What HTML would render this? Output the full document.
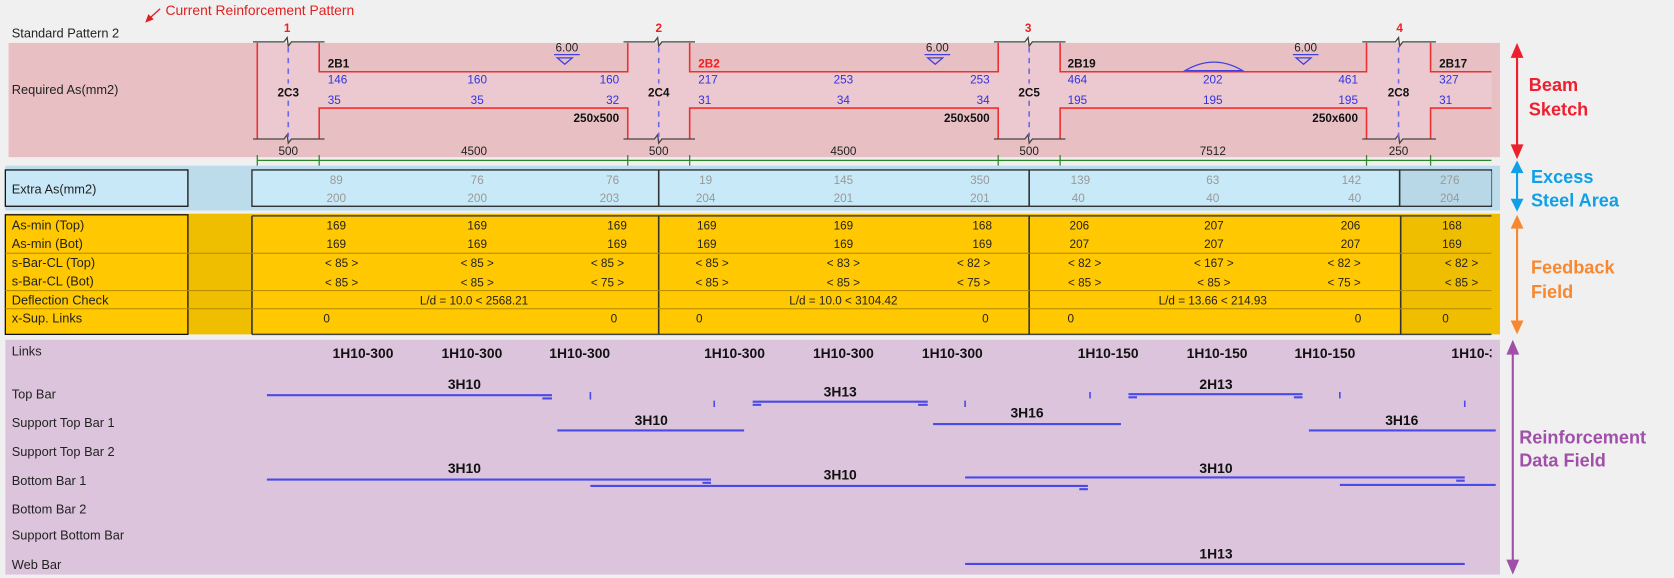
<!DOCTYPE html>
<html><head><meta charset="utf-8"><style>
html,body{margin:0;padding:0;background:#f0f0f0;width:1674px;height:578px;overflow:hidden}
svg{display:block}
text{font-family:"Liberation Sans",sans-serif;font-size:11px}
.l{font-size:12px;fill:#222}
.b{font-weight:bold;fill:#111}
.bl{fill:#3333dd}
.g{fill:#999}
.d{fill:#222}
.m{text-anchor:middle}
.e{text-anchor:end}
.big{font-size:17px;font-weight:bold}
</style></head><body>
<svg width="1674" height="578" viewBox="0 0 1568 541" xmlns="http://www.w3.org/2000/svg">
<rect width="1568" height="541" fill="#f0f0f0"/>
<text x="155" y="14" style="font-size:13px;fill:#e02020">Current Reinforcement Pattern</text>
<line x1="150" y1="8" x2="140" y2="17" stroke="#e02020" stroke-width="1.2"/>
<polygon points="136,21 139,13 144,18" fill="#e02020"/>
<text x="11" y="35" class="l">Standard Pattern 2</text>

<rect x="8" y="40" width="1397" height="107" fill="#e8c0c4"/>
<g fill="#ecc8d0">
<rect x="241" y="40" width="58" height="90"/><rect x="588" y="40" width="58" height="90"/>
<rect x="935" y="40" width="58" height="90"/><rect x="1280" y="40" width="60" height="90"/>
<rect x="241" y="67" width="1156" height="34"/>
</g>
<text x="11" y="88" class="l">Required As(mm2)</text>
<g stroke="#ee3030" stroke-width="1.5" fill="none">
<path d="M241,40V130M299,40V67H588V40M299,130V101H588V130M646,40V67H935V40M646,130V101H935V130M993,40V67H1280V40M993,130V101H1280V130M1340,40V67H1397M1340,130V101H1397"/>
</g>
<g stroke="#444" stroke-width="1.2" fill="none">
<path d="M237,39H266l3,-4 1,8 3,-4H304M237,130H266l3,-4 1,8 3,-4H304"/>
<path d="M584,39H613l3,-4 1,8 3,-4H651M584,130H613l3,-4 1,8 3,-4H651"/>
<path d="M931,39H960l3,-4 1,8 3,-4H998M931,130H960l3,-4 1,8 3,-4H998"/>
<path d="M1276,39H1307l3,-4 1,8 3,-4H1345M1276,130H1307l3,-4 1,8 3,-4H1345"/>
</g>
<g stroke="#6a6ae8" stroke-width="1.5" stroke-dasharray="5,5">
<line x1="270" y1="44" x2="270" y2="128"/><line x1="617" y1="44" x2="617" y2="128"/>
<line x1="964" y1="44" x2="964" y2="128"/><line x1="1310" y1="44" x2="1310" y2="128"/>
</g>
<g fill="#ecc8d0">
<rect x="255" y="78" width="30" height="16"/><rect x="602" y="78" width="30" height="16"/>
<rect x="949" y="78" width="30" height="16"/><rect x="1295" y="78" width="30" height="16"/>
</g>
<text x="269" y="30" class="m" style="font-weight:bold;fill:#ee2020">1</text>
<text x="617" y="30" class="m" style="font-weight:bold;fill:#ee2020">2</text>
<text x="963" y="30" class="m" style="font-weight:bold;fill:#ee2020">3</text>
<text x="1311" y="30" class="m" style="font-weight:bold;fill:#ee2020">4</text>
<text x="270" y="90" class="b m">2C3</text><text x="617" y="90" class="b m">2C4</text>
<text x="964" y="90" class="b m">2C5</text><text x="1310" y="90" class="b m">2C8</text>
<text x="307" y="63" class="b">2B1</text><text x="654" y="63" class="b" style="fill:#ee2020">2B2</text>
<text x="1000" y="63" class="b">2B19</text><text x="1348" y="63" class="b">2B17</text>
<text x="307" y="78" class="bl">146</text><text x="447" y="78" class="bl m">160</text><text x="580" y="78" class="bl e">160</text>
<text x="307" y="97" class="bl">35</text><text x="447" y="97" class="bl m">35</text><text x="580" y="97" class="bl e">32</text>
<text x="654" y="78" class="bl">217</text><text x="790" y="78" class="bl m">253</text><text x="927" y="78" class="bl e">253</text>
<text x="654" y="97" class="bl">31</text><text x="790" y="97" class="bl m">34</text><text x="927" y="97" class="bl e">34</text>
<text x="1000" y="78" class="bl">464</text><text x="1136" y="78" class="bl m">202</text><text x="1272" y="78" class="bl e">461</text>
<text x="1000" y="97" class="bl">195</text><text x="1136" y="97" class="bl m">195</text><text x="1272" y="97" class="bl e">195</text>
<text x="1348" y="78" class="bl">327</text><text x="1348" y="97" class="bl">31</text>
<text x="580" y="114" class="b e">250x500</text><text x="927" y="114" class="b e">250x500</text><text x="1272" y="114" class="b e">250x600</text>
<text x="531" y="48" class="d m">6.00</text><text x="878" y="48" class="d m">6.00</text><text x="1223" y="48" class="d m">6.00</text>
<g stroke="#4040e0" stroke-width="1.2" fill="none">
<path d="M519,51H543M522,54H536L529,60Z"/><path d="M866,51H890M869,54H883L876,60Z"/><path d="M1211,51H1235M1214,54H1228L1221,60Z"/>
<path d="M1110,66Q1137,50 1164,66Z"/>
</g>
<text x="270" y="145" class="d m">500</text><text x="444" y="145" class="d m">4500</text><text x="617" y="145" class="d m">500</text>
<text x="790" y="145" class="d m">4500</text><text x="964" y="145" class="d m">500</text><text x="1136" y="145" class="d m">7512</text><text x="1310" y="145" class="d m">250</text>
<g stroke="#2a8a2a" stroke-width="1.2">
<line x1="241" y1="150" x2="1397" y2="150"/>
<path d="M241,145V155M299,145V155M588,145V155M646,145V155M935,145V155M993,145V155M1280,145V155M1340,145V155"/>
</g>

<rect x="5" y="155" width="1400" height="42" fill="#bcdcec"/>
<rect x="5" y="159" width="171" height="34" fill="#c8e8f8" stroke="#111" stroke-width="1.2"/>
<text x="11" y="181" class="l">Extra As(mm2)</text>
<rect x="236" y="159" width="1161" height="34" fill="#c8eaf8" stroke="#222" stroke-width="1.2"/>
<rect x="1311" y="160" width="86" height="32" fill="#b8d8e8"/>
<path d="M617,159V193M964,159V193M1311,159V193" stroke="#333" stroke-width="1.5"/>
<text x="315" y="172" class="g m">89</text><text x="447" y="172" class="g m">76</text><text x="580" y="172" class="g e">76</text>
<text x="315" y="189" class="g m">200</text><text x="447" y="189" class="g m">200</text><text x="580" y="189" class="g e">203</text>
<text x="661" y="172" class="g m">19</text><text x="790" y="172" class="g m">145</text><text x="927" y="172" class="g e">350</text>
<text x="661" y="189" class="g m">204</text><text x="790" y="189" class="g m">201</text><text x="927" y="189" class="g e">201</text>
<text x="1012" y="172" class="g m">139</text><text x="1136" y="172" class="g m">63</text><text x="1275" y="172" class="g e">142</text>
<text x="1010" y="189" class="g m">40</text><text x="1136" y="189" class="g m">40</text><text x="1275" y="189" class="g e">40</text>
<text x="1358" y="172" class="g m">276</text><text x="1358" y="189" class="g m">204</text>

<rect x="5" y="200" width="1400" height="113" fill="#f0be00"/>
<rect x="5" y="201" width="171" height="112" fill="#ffc800" stroke="#111" stroke-width="1.2"/>
<rect x="236" y="202" width="1161" height="111" fill="#ffc800"/>
<rect x="1312" y="202" width="85" height="111" fill="#f0be00"/>
<path d="M236,202H1397M236,313H1397" stroke="#444" stroke-width="1.5"/>
<path d="M236,202V313M617,202V313M964,202V313M1312,202V313" stroke="#333" stroke-width="1.5"/>
<path d="M5,237H1397M5,272H1397M5,289H1397" stroke="#b08a00" stroke-width="1"/>
<text x="11" y="215" class="l">As-min (Top)</text><text x="11" y="232" class="l">As-min (Bot)</text>
<text x="11" y="250" class="l">s-Bar-CL (Top)</text><text x="11" y="267" class="l">s-Bar-CL (Bot)</text>
<text x="11" y="285" class="l">Deflection Check</text><text x="11" y="302" class="l">x-Sup. Links</text>

<text x="315" y="215" class="d m">169</text><text x="447" y="215" class="d m">169</text><text x="578" y="215" class="d m">169</text>
<text x="315" y="232" class="d m">169</text><text x="447" y="232" class="d m">169</text><text x="578" y="232" class="d m">169</text>
<text x="320" y="250" class="d m">&lt; 85 &gt;</text><text x="447" y="250" class="d m">&lt; 85 &gt;</text><text x="569" y="250" class="d m">&lt; 85 &gt;</text>
<text x="320" y="268" class="d m">&lt; 85 &gt;</text><text x="447" y="268" class="d m">&lt; 85 &gt;</text><text x="569" y="268" class="d m">&lt; 75 &gt;</text>
<text x="444" y="285" class="d m">L/d = 10.0 &lt; 2568.21</text>
<text x="306" y="302" class="d m">0</text><text x="575" y="302" class="d m">0</text>

<text x="662" y="215" class="d m">169</text><text x="790" y="215" class="d m">169</text><text x="920" y="215" class="d m">168</text>
<text x="662" y="232" class="d m">169</text><text x="790" y="232" class="d m">169</text><text x="920" y="232" class="d m">169</text>
<text x="667" y="250" class="d m">&lt; 85 &gt;</text><text x="790" y="250" class="d m">&lt; 83 &gt;</text><text x="912" y="250" class="d m">&lt; 82 &gt;</text>
<text x="667" y="268" class="d m">&lt; 85 &gt;</text><text x="790" y="268" class="d m">&lt; 85 &gt;</text><text x="912" y="268" class="d m">&lt; 75 &gt;</text>
<text x="790" y="285" class="d m">L/d = 10.0 &lt; 3104.42</text>
<text x="655" y="302" class="d m">0</text><text x="923" y="302" class="d m">0</text>

<text x="1011" y="215" class="d m">206</text><text x="1137" y="215" class="d m">207</text><text x="1265" y="215" class="d m">206</text>
<text x="1011" y="232" class="d m">207</text><text x="1137" y="232" class="d m">207</text><text x="1265" y="232" class="d m">207</text>
<text x="1016" y="250" class="d m">&lt; 82 &gt;</text><text x="1137" y="250" class="d m">&lt; 167 &gt;</text><text x="1259" y="250" class="d m">&lt; 82 &gt;</text>
<text x="1016" y="268" class="d m">&lt; 85 &gt;</text><text x="1137" y="268" class="d m">&lt; 85 &gt;</text><text x="1259" y="268" class="d m">&lt; 75 &gt;</text>
<text x="1136" y="285" class="d m">L/d = 13.66 &lt; 214.93</text>
<text x="1003" y="302" class="d m">0</text><text x="1272" y="302" class="d m">0</text>

<text x="1360" y="215" class="d m">168</text><text x="1360" y="232" class="d m">169</text>
<text x="1369" y="250" class="d m">&lt; 82 &gt;</text><text x="1369" y="268" class="d m">&lt; 85 &gt;</text>
<text x="1354" y="302" class="d m">0</text>

<rect x="5" y="318" width="1400" height="220" fill="#dcc4dc"/>
<text x="11" y="333" class="l">Links</text><text x="11" y="373" class="l">Top Bar</text>
<text x="11" y="400" class="l">Support Top Bar 1</text><text x="11" y="427" class="l">Support Top Bar 2</text>
<text x="11" y="454" class="l">Bottom Bar 1</text><text x="11" y="481" class="l">Bottom Bar 2</text>
<text x="11" y="505" class="l">Support Bottom Bar</text><text x="11" y="533" class="l">Web Bar</text>
<svg x="0" y="318" width="1397" height="30" overflow="hidden">
<text x="340" y="17" class="b m" style="font-size:13px">1H10-300</text><text x="442" y="17" class="b m" style="font-size:13px">1H10-300</text><text x="543" y="17" class="b m" style="font-size:13px">1H10-300</text>
<text x="688" y="17" class="b m" style="font-size:13px">1H10-300</text><text x="790" y="17" class="b m" style="font-size:13px">1H10-300</text><text x="892" y="17" class="b m" style="font-size:13px">1H10-300</text>
<text x="1038" y="17" class="b m" style="font-size:13px">1H10-150</text><text x="1140" y="17" class="b m" style="font-size:13px">1H10-150</text><text x="1241" y="17" class="b m" style="font-size:13px">1H10-150</text>
<text x="1388" y="17" class="b m" style="font-size:13px">1H10-300</text>
</svg>
<g stroke="#4a4ae8" stroke-width="2" fill="none">
<path d="M250,370H517M508,373H517"/>
<path d="M553,367V374M669,375V381M1021,367V373M904,375V381M1255,367V373M1372,375V381" stroke-width="1.5"/>
<path d="M705,376H869M705,379H713M860,379H869"/>
<path d="M1057,369H1220M1057,372H1065M1212,372H1220"/>
<path d="M522,403H697M874,397H1050M1226,403H1401"/>
<path d="M250,449H666M658,452H666M553,455H1019M1011,458H1019M904,447H1372M1364,450H1372M1255,454H1401"/>
<path d="M904,528H1372"/>
</g>
<text x="435" y="364" class="b m" style="font-size:13px">3H10</text>
<text x="787" y="371" class="b m" style="font-size:13px">3H13</text>
<text x="1139" y="364" class="b m" style="font-size:13px">2H13</text>
<text x="610" y="398" class="b m" style="font-size:13px">3H10</text>
<text x="962" y="391" class="b m" style="font-size:13px">3H16</text>
<text x="1313" y="398" class="b m" style="font-size:13px">3H16</text>
<text x="435" y="443" class="b m" style="font-size:13px">3H10</text>
<text x="787" y="449" class="b m" style="font-size:13px">3H10</text>
<text x="1139" y="443" class="b m" style="font-size:13px">3H10</text>
<text x="1139" y="523" class="b m" style="font-size:13px">1H13</text>

<g stroke-width="2">
<line x1="1421" y1="50" x2="1421" y2="140" stroke="#ee2030"/>
<polygon points="1421,40 1415,54 1427,54" fill="#ee2030"/><polygon points="1421,149 1415,135 1427,135" fill="#ee2030"/>
<line x1="1421" y1="158" x2="1421" y2="190" stroke="#10a0e8"/>
<polygon points="1421,150 1415,162 1427,162" fill="#10a0e8"/><polygon points="1421,198 1415,186 1427,186" fill="#10a0e8"/>
<line x1="1421" y1="210" x2="1421" y2="304" stroke="#f88830"/>
<polygon points="1421,201 1415,214 1427,214" fill="#f88830"/><polygon points="1421,313 1415,300 1427,300" fill="#f88830"/>
<line x1="1417" y1="328" x2="1417" y2="528" stroke="#a050a8"/>
<polygon points="1417,318 1411,332 1423,332" fill="#a050a8"/><polygon points="1417,538 1411,524 1423,524" fill="#a050a8"/>
</g>
<text x="1432" y="85" class="big" style="fill:#ee2030">Beam</text>
<text x="1432" y="108" class="big" style="fill:#ee2030">Sketch</text>
<text x="1434" y="171" class="big" style="fill:#10a0e8">Excess</text>
<text x="1434" y="193" class="big" style="fill:#10a0e8">Steel Area</text>
<text x="1434" y="256" class="big" style="fill:#f88830">Feedback</text>
<text x="1434" y="279" class="big" style="fill:#f88830">Field</text>
<text x="1423" y="415" class="big" style="fill:#a050a8">Reinforcement</text>
<text x="1423" y="437" class="big" style="fill:#a050a8">Data Field</text>
</svg>
</body></html>
